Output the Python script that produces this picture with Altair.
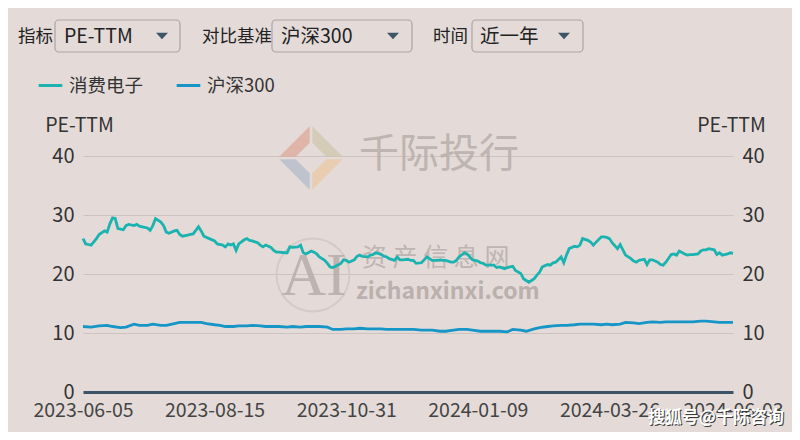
import altair as alt
import pandas as pd

# ---------------- data ----------------
series_names = ["消费电子", "沪深300"]

ce_day = [0, 1, 2, 3, 5, 6, 8, 9, 10, 11,
          12, 13, 14, 15, 16, 17, 19, 20, 21, 22,
          24, 25, 26, 27, 29, 30, 31, 32, 34, 35,
          36, 37, 39, 40, 41, 42, 43, 44, 45, 47,
          49, 50, 52, 53, 54, 55, 56, 57, 58, 60,
          61, 62, 63, 65, 66, 67, 68, 70, 71, 72,
          73, 75, 76, 77, 78, 80, 81, 82, 83, 85,
          86, 87, 88, 90, 91, 92, 93, 94, 96, 97,
          98, 99, 101, 102, 103, 104, 106, 107, 108, 109,
          111, 112, 113, 114, 116, 117, 118,
          119, 121, 122, 123, 124, 126, 127, 128, 129, 130,
          132, 133, 134, 135, 137, 138, 139, 140, 142, 143,
          144, 145, 147, 148, 149, 150, 152, 153, 154, 155,
          157, 158, 159, 160, 161, 163, 164, 165, 166, 168,
          169, 170, 171, 173, 174, 175, 176, 178, 179, 180,
          181, 183, 184, 185, 186, 188, 189, 190, 191, 193,
          194, 195, 196, 197, 199, 200, 201, 202, 204, 205,
          206, 207, 209, 210, 211, 212, 214, 215, 216, 217,
          219, 220, 221, 222, 224, 225, 226, 227, 229, 230,
          231, 232, 233, 235, 236, 237, 238, 240, 241, 242]

ce_pe = [26.0, 25.1, 25.0, 24.9, 26.0, 26.7, 27.3, 27.1, 28.5, 29.5,
         29.4, 27.7, 27.6, 27.5, 28.2, 28.4, 28.2, 28.4, 28.1, 28.0,
         27.8, 27.4, 28.2, 29.4, 28.8, 28.2, 27.1, 26.9, 27.3, 27.4,
         26.7, 26.4, 26.6, 26.7, 26.8, 27.4, 28.0, 27.3, 26.4, 26.0,
         25.6, 25.1, 24.9, 24.6, 25.1, 24.9, 25.1, 24.0, 25.1, 25.8,
         26.0, 25.7, 25.6, 25.3, 24.9, 24.6, 24.9, 24.5, 24.0, 23.7,
         23.7, 23.6, 23.6, 24.6, 24.5, 24.6, 24.9, 23.6, 23.4, 23.9,
         23.7, 23.4, 22.9, 22.3, 21.8, 21.2, 21.1, 21.3, 21.8, 22.4,
         22.3, 22.0, 22.4, 23.0, 23.2, 23.0, 22.9, 23.2, 23.3, 23.6,
         23.3, 23.0, 22.9, 22.6, 22.3, 22.9, 22.4,
         22.4, 22.5, 22.3, 22.3, 21.8, 21.9, 22.4, 22.9, 22.6, 22.3,
         22.3, 22.4, 22.3, 22.3, 22.0, 22.0, 22.3, 22.9, 23.6, 23.4,
         22.9, 22.4, 22.2, 21.9, 21.8, 21.5, 21.5, 21.5, 21.1, 21.2,
         20.9, 21.1, 21.2, 21.3, 20.6, 20.1, 19.2, 18.9, 18.6, 19.2,
         19.8, 20.3, 21.2, 21.6, 21.5, 21.9, 22.0, 22.9, 21.9, 23.2,
         24.3, 24.7, 24.6, 24.9, 26.0, 25.7, 25.4, 24.9, 25.4, 26.3,
         26.3, 26.2, 26.0, 25.3, 24.3, 25.0, 24.1, 23.2, 22.6, 22.2,
         22.0, 22.3, 22.5, 21.6, 22.4, 22.4, 22.0, 21.6, 21.5, 22.0,
         23.3, 23.4, 23.2, 23.9, 23.4, 23.2, 23.3, 23.3, 23.4, 23.9,
         24.1, 24.1, 24.3, 24.1, 23.3, 23.6, 23.2, 23.4, 23.6, 23.5]

hs_day = [0, 3, 6, 9, 11, 14, 16, 19, 21, 24,
          26, 29, 31, 34, 36, 39, 41, 44, 46, 49,
          51, 53, 56, 58, 61, 63, 66, 68, 71, 73,
          76, 78, 81, 83, 86, 88, 91, 93, 96, 98,
          101, 103, 106, 108, 111, 113, 116, 118,
          121, 123, 126, 128, 130, 133, 135, 138, 140, 143,
          145, 148, 150, 153, 155, 158, 160, 163, 165, 168,
          170, 173, 175, 178, 180, 183, 185, 188, 190, 193,
          195, 197, 200, 202, 205, 207, 210, 212, 215, 217,
          220, 222, 225, 227, 230, 232, 235, 237, 240, 242]

hs_pe = [11.1, 11.0, 11.2, 11.3, 11.1, 10.9, 11.0, 11.5, 11.3, 11.3,
         11.5, 11.3, 11.3, 11.6, 11.8, 11.8, 11.8, 11.8, 11.6, 11.4,
         11.3, 11.1, 11.1, 11.2, 11.2, 11.3, 11.2, 11.1, 11.1, 11.1,
         11.0, 11.1, 11.0, 11.1, 11.1, 11.1, 11.0, 10.6, 10.6, 10.7,
         10.7, 10.8, 10.7, 10.7, 10.7, 10.6, 10.6, 10.6,
         10.6, 10.6, 10.5, 10.5, 10.5, 10.3, 10.3, 10.5, 10.6, 10.6,
         10.5, 10.3, 10.3, 10.3, 10.3, 10.2, 10.6, 10.5, 10.3, 10.7,
         10.9, 11.1, 11.2, 11.3, 11.3, 11.4, 11.5, 11.5, 11.5, 11.4,
         11.5, 11.4, 11.5, 11.8, 11.7, 11.6, 11.8, 11.9, 11.8, 11.9,
         11.9, 11.9, 11.9, 11.9, 12.0, 12.0, 11.9, 11.8, 11.8, 11.8]

tick_days = [0, 49, 98, 147, 196, 242]
tick_labels = ["2023-06-05", "2023-08-15", "2023-10-31",
               "2024-01-09", "2024-03-26", "2024-06-03"]
y_ticks = [0, 10, 20, 30, 40]

# ---------------- style ----------------
FONT = "Noto Sans CJK SC"
BG = "#e4dbd8"
TEAL = "#1bb3b0"
BLUE = "#1695c7"
TXT = "#333333"
W, H = 650, 236
OX, OY = 83, 156          # page position of the plot origin
DMAX = 242
FS = 19.5
FCJK = 17.5

df = pd.concat([
    pd.DataFrame({"day": ce_day, "pe": ce_pe, "series": series_names[0]}),
    pd.DataFrame({"day": hs_day, "pe": hs_pe, "series": series_names[1]}),
], ignore_index=True)

label_expr = "".join(f"datum.value == {d} ? '{l}' : " for d, l in zip(tick_days, tick_labels)) + "''"

xscale = alt.Scale(domain=[0, DMAX], nice=False, zero=False)
yscale = alt.Scale(domain=[0, 40], nice=False)

lines = alt.Chart(df).mark_line(strokeWidth=2.8, clip=False).encode(
    x=alt.X("day:Q", scale=xscale,
            axis=alt.Axis(values=tick_days, labelExpr=label_expr, title=None, grid=False,
                          ticks=False, domainColor="#3d5468", domainWidth=3,
                          labelFont=FONT, labelFontSize=FS, labelColor="#444444",
                          labelPadding=9, labelOverlap=False, labelFlush=False, labelBound=False)),
    y=alt.Y("pe:Q", scale=yscale,
            axis=alt.Axis(values=y_ticks, title="PE-TTM", titleAngle=0, titleX=-4, titleY=-31,
                          titleAlign="center", titleBaseline="middle", titleFont=FONT,
                          titleFontSize=FS, titleFontWeight="normal", titleColor=TXT,
                          domain=False, ticks=False, labelFont=FONT, labelFontSize=20,
                          labelColor=TXT, labelPadding=9, grid=True, gridColor="#cdc4c1",
                          gridWidth=1)),
    color=alt.Color("series:N", scale=alt.Scale(domain=series_names, range=[TEAL, BLUE]),
                    legend=alt.Legend(orient="none", legendX=-46, legendY=-84,
                                      direction="horizontal", title=None, symbolType="stroke",
                                      symbolSize=560, symbolStrokeWidth=3, labelFont=FONT,
                                      labelFontSize=18.5, labelColor=TXT, columnPadding=26,
                                      labelOffset=5, padding=0)),
    detail="series:N",
)

right_axis = alt.Chart(df).mark_point(opacity=0).encode(
    y=alt.Y("pe:Q", scale=yscale,
            axis=alt.Axis(orient="right", values=y_ticks, title="PE-TTM", titleAngle=0,
                          titleX=-2, titleY=-31, titleAlign="center", titleBaseline="middle",
                          titleFont=FONT, titleFontSize=FS, titleFontWeight="normal",
                          titleColor=TXT, domain=False, ticks=False, labelFont=FONT,
                          labelFontSize=20, labelColor=TXT, labelPadding=9, grid=False)),
)

one = pd.DataFrame({"k": [0]})


def txt(s, px, py, size, color, align="left", font=FONT, weight="normal", opacity=1.0):
    return alt.Chart(one).mark_text(text=s, align=align, baseline="middle", fontSize=size,
                                    color=color, font=font, fontWeight=weight,
                                    opacity=opacity).encode(
        x=alt.value(px - OX), y=alt.value(py - OY))


def box(x1, x2, y1, y2):
    return alt.Chart(one).mark_rect(fill=BG, stroke="#aba3a3", strokeWidth=1.2,
                                    cornerRadius=4).encode(
        x=alt.value(x1 - OX), x2=alt.value(x2 - OX), y=alt.value(y1 - OY), y2=alt.value(y2 - OY))


TRI = "M-1,-0.55L1,-0.55L0,0.55Z"


def tri(px, py):
    return alt.Chart(one).mark_point(shape=TRI, filled=True, size=144, color="#3d5566",
                                     opacity=1).encode(x=alt.value(px - OX), y=alt.value(py - OY))


# logo pieces (four bands of a diamond)
TL = "M-0.96,-0.04L-0.04,-0.96L-0.04,-0.46L-0.46,-0.04Z"
TR = "M0.04,-0.96L0.96,-0.04L0.46,-0.04L0.04,-0.46Z"
BL = "M-0.96,0.04L-0.46,0.04L-0.04,0.46L-0.04,0.96Z"
BR = "M0.04,0.96L0.04,0.46L0.46,0.04L0.96,0.04Z"


def piece(shape, color):
    return alt.Chart(one).mark_point(shape=shape, filled=True, size=4400, color=color,
                                     opacity=0.75).encode(x=alt.value(311 - OX), y=alt.value(158 - OY))


ring = alt.Chart(one).mark_point(shape="circle", filled=False, size=5300, color="#d3cac7",
                                 strokeWidth=2, opacity=0.9).encode(
    x=alt.value(313 - OX), y=alt.value(275 - OY))

watermark = [
    piece(TL, "#dea79a"), piece(TR, "#cfc7ac"), piece(BL, "#b3bbcb"), piece(BR, "#e9c8a3"),
    txt("千际投行", 359, 155, 40, "#b5aba8", opacity=0.8),
    ring,
    txt("AI", 314, 276, 62, "#b5aaa7", align="center", font="Liberation Serif", opacity=0.8),
    txt("资 产 信 息 网", 362, 258, 25, "#b5aba8", opacity=0.8),
    txt("zichanxinxi.com", 356, 292, 23, "#b0a6a3", weight="bold", opacity=0.8),
]

controls = [
    txt("指标", 18, 37, FCJK, "#222222"),
    box(55, 180, 20, 52), txt("PE-TTM", 64, 37, FS, "#222222"), tri(162, 36),
    txt("对比基准", 202, 37, FCJK, "#222222"),
    box(272, 412, 20, 52), txt("沪深300", 281, 37, FS, "#222222"), tri(393, 36),
    txt("时间", 433, 37, FCJK, "#222222"),
    box(472, 583, 20, 52), txt("近一年", 480, 37, FS, "#222222"), tri(564, 36),
    txt("搜狐号@千际咨询", 785, 419, 17, "#3a3a3a", align="right", weight="bold"),
    txt("搜狐号@千际咨询", 784, 418, 17, "#ffffff", align="right", weight="bold"),
]

chart = alt.layer(*watermark, lines, right_axis, *controls).resolve_scale(
    y="independent"
).properties(
    width=W, height=H, background=BG,
    padding={"left": 75, "top": 148, "right": 59, "bottom": 40},
    autosize=alt.AutoSizeParams(type="none"),
).configure_view(stroke=None)

chart.save("out.html", embed_options={"renderer": "svg", "actions": False})
